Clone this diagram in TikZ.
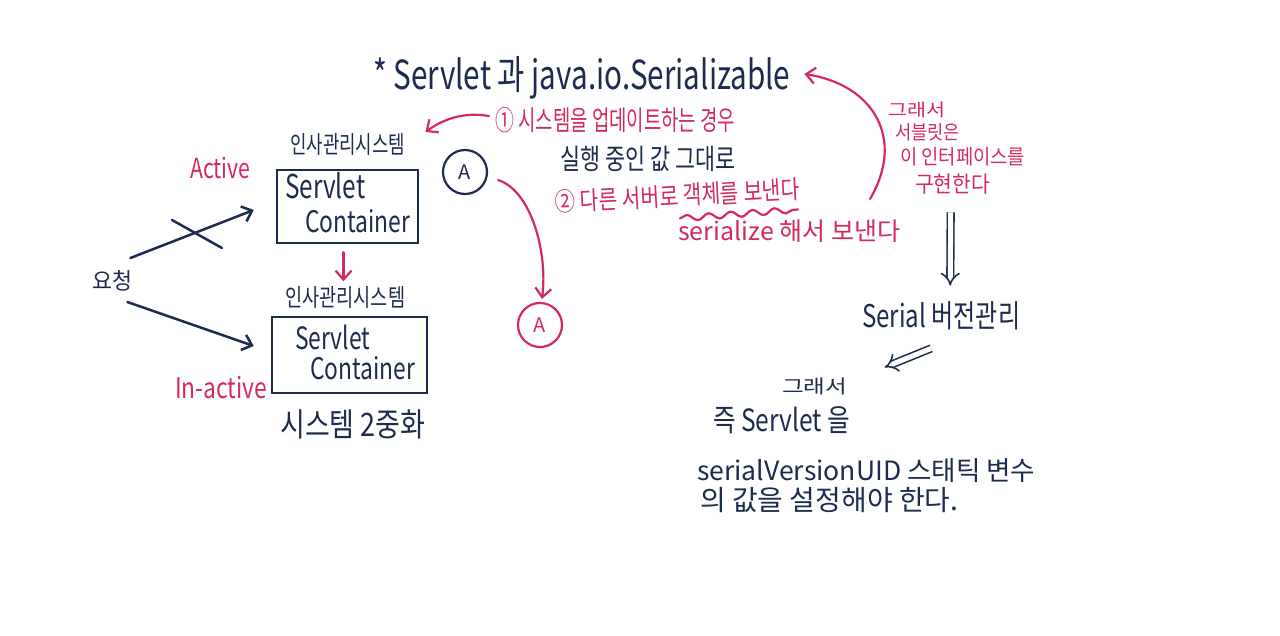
\documentclass[tikz,border=0pt]{standalone}
\usepackage{fontspec}
\setmainfont{Noto Sans CJK KR}
\usetikzlibrary{arrows.meta,decorations.pathmorphing,calc}
\definecolor{ink}{HTML}{1C2B4F}
\definecolor{pen}{HTML}{D42A5C}
\newcommand\fw[3][1]{\scalebox{1}[#1]{\resizebox{#2pt}{!}{#3}}}
\begin{document}
\begin{tikzpicture}[x=1pt,y=-1pt,
  navy/.style={text=ink, inner sep=0pt, anchor=west},
  redt/.style={text=pen, inner sep=0pt, anchor=west},
  box/.style={draw=ink, line width=2.5pt, inner sep=0pt},
  inkline/.style={draw=ink, line width=2.5pt, line cap=round},
  penline/.style={draw=pen, line width=2.2pt, line cap=round},
  tip/.style={-{Straight Barb[length=9pt,width=16pt]}},
  dbl/.style={draw=ink, line width=1.6pt, double=white, double distance=5pt, -{Implies}},
  circ/.style={circle, line width=2.2pt, minimum size=44pt, inner sep=0pt, font=\fontsize{20}{20}\selectfont}
]
\useasboundingbox[fill=white] (0,0) rectangle (1280,635);

% title and notes
\node[navy] (title) at (373,78) {\fw[1.35]{417}{* Servlet 과 java.io.Serializable}};
\node[redt] (note1) at (495,120) {\fw[1.45]{240}{① 시스템을 업데이트하는 경우}};
\node[navy] (runv) at (560,159) {\fw[1.3]{175}{실행 중인 값 그대로}};
\node[redt, rotate=3] (note2) at (555,202) {\fw[1.25]{245}{② 다른 서버로 객체를 보낸다}};
\node[redt] (ser) at (678,231) {\fw{222}{serialize 해서 보낸다}};

% right red column
\node[redt] (so1) at (888,110) {\fw[0.85]{57}{그래서}};
\node[redt] (so2) at (895,132) {\fw[1.1]{65}{서블릿은}};
\node[redt] (so3) at (900,157) {\fw[1.1]{125}{이 인터페이스를}};
\node[redt] (so4) at (915,184) {\fw[1.1]{75}{구현한다}};

% right navy column
\node[navy] (svm) at (862,316) {\fw[1.3]{158}{Serial 버전관리}};
\node[navy] (so5) at (782,386) {\fw[0.8]{65}{그래서}};
\node[navy] (so6) at (713,420) {\fw[1.25]{137}{즉 Servlet 을}};
\node[navy] (suid) at (697,471) {\fw{338}{serialVersionUID 스태틱 변수}};
\node[navy] (last) at (700,500) {\fw{258}{의 값을 설정해야 한다.}};

% left part
\node[navy] (req) at (92,281) {\fw[1.05]{40}{요청}};
\node[navy] (hr1) at (290,144) {\fw[1.35]{115}{인사관리시스템}};
\node[redt] (active) at (190,168) {\fw[1.3]{60}{Active}};
\node[box, minimum width=141pt, minimum height=73pt] (c1) at (347.5,206.5) {};
\node[navy] (s1a) at (285,186) {\fw[1.35]{80}{Servlet}};
\node[navy] (s1b) at (305,221) {\fw[1.3]{105}{Container}};
\node[navy] (hr2) at (285,297) {\fw[1.3]{120}{인사관리시스템}};
\node[box, minimum width=155pt, minimum height=76pt] (c2) at (349.5,355) {};
\node[navy] (s2a) at (295,337) {\fw[1.35]{75}{Servlet}};
\node[navy] (s2b) at (310,368) {\fw[1.3]{105}{Container}};
\node[redt] (inact) at (175,388) {\fw[1.25]{92}{In-active}};
\node[navy] (dup) at (280,424) {\fw[1.2]{145}{시스템 2중화}};

% circles
\node[circ, draw=ink, text=ink] (ca) at (465,172) {A};
\node[circ, draw=pen, text=pen] (cb) at (540,325) {A};

% connectors left
\coordinate (a1s) at ($(req.east)+(-2,-23)$);
\coordinate (a1e) at ($(c1.west)+(-22,3.5)$);
\draw[inkline, tip] (a1s) -- (a1e);
\draw[inkline] (172,220) -- (222,248);
\coordinate (a2s) at ($(req.east)+(-5,21)$);
\coordinate (a2e) at ($(c2.west)+(-17,-9)$);
\draw[inkline, tip] (a2s) -- (a2e);
\coordinate (d1s) at ($(c1.south)+(-4,8)$);
\coordinate (d1e) at ($(c1.south)+(-4,37)$);
\draw[penline, tip] (d1s) -- (d1e);

% red connectors
\coordinate (n1s) at ($(note1.west)+(-6,-4)$);
\coordinate (n1e) at ($(hr1.east)+(20,-12)$);
\draw[penline, tip] (n1s) .. controls (465,112) and (445,118) .. (n1e);
\coordinate (cas) at ($(ca.east)+(10,8)$);
\coordinate (cbe) at ($(cb.north)+(2,-3)$);
\draw[penline, tip] (cas) .. controls (530,190) and (548,250) .. (cbe);
\coordinate (bgs) at ($(so4.west)+(-45,15)$);
\coordinate (bge) at ($(title.east)+(14,-4)$);
\draw[penline, tip] (bgs) .. controls (905,140) and (875,85) .. (bge);
\coordinate (wvs) at ($(ser.north west)+(2,-1)$);
\coordinate (wve) at ($(ser.north west)+(120,-10)$);
\draw[penline, decorate, decoration={snake, amplitude=3pt, segment length=22pt}] (wvs) -- (wve);

% double arrows
\coordinate (q1s) at ($(so4.south)+(-2,18)$);
\coordinate (q1e) at ($(svm.north)+(9,-16)$);
\draw[dbl] (q1s) -- (q1e);
\coordinate (q2s) at ($(svm.south)+(-10,18)$);
\coordinate (q2e) at ($(so5.north)+(70,-10)$);
\draw[dbl] (q2s) -- (q2e);
\end{tikzpicture}
\end{document}
